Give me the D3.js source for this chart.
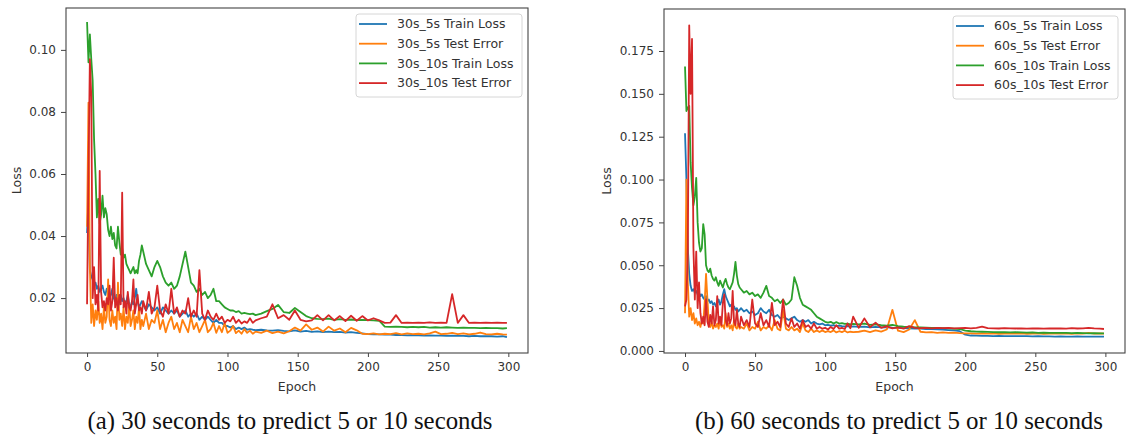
<!DOCTYPE html>
<html>
<head>
<meta charset="utf-8">
<script src="https://cdn.jsdelivr.net/npm/d3@7"></script>
<style>
body{margin:0;background:#fff;}
svg{display:block;}
</style>
</head>
<body>
<svg id="chart" width="1126" height="443"></svg>
<script>
var epochs=[0,1,2,3,4,5,6,7,8,9,10,11,12,13,14,15,16,17,18,19,
  20,21,22,23,24,25,26,27,28,29,30,31,32,33,34,35,36,37,38,39,
  40,42,44,46,48,50,52,54,56,58,60,62,64,66,68,70,72,74,76,78,
  80,82,84,86,88,90,92,94,96,98,100,102,104,106,108,110,112,114,116,118,
  120,
  124,128,132,136,140,144,148,152,156,160,164,168,172,176,180,184,188,192,196,200,
  204,208,212,216,220,224,228,232,236,240,244,248,252,256,260,264,268,272,276,280,
  284,288,292,296,
  299];

var xTicks=[0,50,100,150,200,250,300];
var yTicksA=[0.02,0.04,0.06,0.08,0.10];
var yTicksB=[0,0.025,0.05,0.075,0.1,0.125,0.15,0.175];

var namesA=["30s_5s Train Loss","30s_5s Test Error","30s_10s Train Loss","30s_10s Test Error"];
var namesB=["60s_5s Train Loss","60s_5s Test Error","60s_10s Train Loss","60s_10s Test Error"];
var colors=["#1f77b4","#ff7f0e","#2ca02c","#d62728"];

var captionA="(a) 30 seconds to predict 5 or 10 seconds";
var captionB="(b) 60 seconds to predict 5 or 10 seconds";

// (a) 30 s history
var trainA5=[.041,.052,.029,.027,.026,.024,.025,.023,.024,.022,
  .023,.024,.022,.021,.023,.022,.020,.021,.023,.020,
  .019,.021,.020,.018,.021,.019,.020,.018,.019,.021,
  .018,.017,.019,.018,.020,.023,.019,.017,.018,.019,
  .018,.016,.018,.017,.016,.017,.015,.017,.016,.015,
  .016,.015,.016,.014,.015,.016,.014,.015,.014,.015,
  .013,.014,.013,.014,.013,.012,.013,.012,.012,.011,
  .011,.0105,.011,.010,.0105,.010,.0105,.0098,.010,.0098,
  .0097,
  .0098,.0096,.0095,.0097,.0094,.0093,.0096,.0092,.0094,.0091,
  .0093,.009,.0092,.009,.0091,.0089,.009,.0088,.0086,.0084,
  .0083,.0083,.0082,.0082,.0081,.0081,.008,.0081,.008,.0079,
  .008,.0079,.0079,.0078,.0079,.0078,.0078,.0077,.0078,.0077,
  .0077,.0077,.0076,.0077,
  .0074];
var testA5=[.043,.083,.030,.012,.018,.011,.016,.013,.019,.012,
  .015,.010,.017,.012,.014,.026,.013,.011,.016,.012,
  .014,.010,.025,.013,.015,.011,.017,.010,.014,.012,
  .018,.011,.013,.016,.010,.014,.012,.017,.010,.013,
  .011,.015,.010,.013,.012,.016,.010,.013,.009,.012,
  .014,.010,.012,.009,.013,.011,.009,.014,.010,.012,
  .009,.011,.013,.009,.010,.012,.0088,.011,.009,.012,
  .0088,.0095,.011,.0087,.0095,.0085,.010,.0088,.0095,.0085,
  .0092,
  .0088,.0095,.0087,.0092,.0086,.0093,.0105,.0095,.0115,.0098,
  .0105,.0092,.0108,.0095,.0102,.009,.0104,.0096,.0085,.0084,
  .0086,.0083,.0085,.0084,.0087,.0083,.0086,.0084,.0085,.0083,
  .0086,.0092,.0084,.0085,.0088,.0084,.0086,.0083,.0085,.0089,
  .0084,.0083,.0085,.0083,
  .0082];
var trainA10=[.109,.096,.105,.097,.090,.071,.060,.046,.052,.044,
  .047,.053,.046,.049,.047,.042,.040,.043,.039,.041,
  .037,.036,.043,.038,.034,.036,.033,.034,.031,.030,
  .029,.028,.029,.030,.028,.029,.028,.032,.034,.037,
  .035,.031,.029,.027,.030,.032,.030,.027,.025,.024,
  .025,.023,.024,.027,.031,.035,.030,.025,.024,.022,
  .023,.021,.022,.020,.021,.023,.019,.019,.018,.017,
  .0165,.016,.016,.0155,.0158,.015,.0152,.015,.0148,.015,
  .0145,
  .015,.0158,.0165,.0178,.0155,.0152,.0168,.0155,.0142,.0135,
  .0133,.0132,.0134,.013,.0132,.013,.0131,.0129,.013,.0129,
  .0128,.0127,.0108,.0107,.0108,.0107,.0106,.0107,.0106,.0107,
  .0105,.0106,.0105,.0106,.0105,.0104,.0105,.0104,.0104,.0103,
  .0104,.0103,.0103,.0102,
  .0103];
var testA10=[.018,.060,.097,.085,.020,.030,.018,.021,.016,.061,
  .022,.017,.019,.016,.020,.018,.024,.016,.019,.033,
  .017,.020,.016,.021,.018,.054,.017,.019,.015,.022,
  .017,.016,.019,.026,.015,.018,.021,.016,.017,.015,
  .019,.016,.022,.015,.017,.024,.016,.014,.018,.015,
  .023,.015,.017,.014,.016,.015,.020,.014,.016,.014,
  .029,.015,.013,.016,.014,.013,.015,.013,.014,.012,
  .013,.0125,.014,.012,.013,.0118,.0125,.012,.0135,.012,
  .0128,
  .0135,.014,.018,.0135,.0145,.013,.016,.013,.0125,.0128,
  .0145,.0128,.0145,.0128,.0142,.0126,.0143,.0127,.0142,.0128,
  .0135,.0128,.012,.0121,.0145,.012,.0121,.012,.0121,.012,
  .0122,.012,.0121,.012,.0213,.012,.0145,.012,.0121,.012,
  .0121,.012,.0121,.012,
  .012];

// (b) 60 s history
var trainB5=[.127,.100,.060,.045,.038,.035,.036,.034,.035,.033,
  .034,.032,.033,.031,.030,.032,.029,.030,.028,.029,
  .027,.028,.026,.028,.030,.027,.029,.033,.036,.032,
  .030,.028,.026,.027,.025,.026,.024,.025,.023,.024,
  .025,.023,.024,.022,.023,.021,.022,.025,.023,.022,
  .024,.021,.020,.021,.019,.020,.019,.018,.019,.020,
  .018,.017,.018,.017,.018,.016,.017,.016,.0155,.016,
  .015,.0152,.0148,.015,.0145,.0148,.0145,.0143,.0145,.0142,
  .0143,
  .014,.0142,.0138,.014,.0137,.0138,.0136,.0135,.0133,.0132,
  .013,.0131,.0128,.0127,.0126,.0124,.0122,.012,.0115,.0095,
  .009,.0089,.0088,.0088,.0087,.0088,.0087,.0086,.0087,.0086,
  .0086,.0085,.0086,.0085,.0085,.0084,.0085,.0084,.0084,.0085,
  .0083,.0084,.0083,.0084,
  .0083];
var testB5=[.022,.100,.040,.020,.025,.018,.022,.016,.019,.015,
  .017,.014,.018,.016,.028,.045,.030,.016,.014,.017,
  .013,.015,.014,.016,.013,.019,.014,.015,.013,.022,
  .014,.016,.013,.015,.012,.018,.014,.013,.016,.013,
  .014,.013,.016,.012,.014,.013,.017,.012,.014,.013,
  .015,.012,.018,.013,.012,.024,.013,.012,.014,.012,
  .013,.011,.016,.012,.011,.013,.011,.012,.011,.012,
  .011,.0115,.011,.012,.0108,.0115,.011,.0118,.0108,.0112,
  .011,
  .0112,.0118,.011,.012,.0113,.0125,.024,.0118,.011,.0125,
  .018,.0112,.0108,.011,.0106,.0108,.0105,.0107,.0104,.0102,
  .0103,.0101,.0102,.0101,.0102,.01,.0101,.0102,.0101,.0102,
  .01,.0101,.0102,.01,.0101,.0102,.0101,.0103,.01,.0102,
  .0101,.0105,.0101,.0102,
  .0101];
var trainB10=[.166,.140,.142,.143,.110,.095,.085,.090,.101,.075,
  .063,.058,.060,.074,.068,.050,.047,.046,.048,.044,
  .042,.041,.043,.040,.038,.041,.039,.037,.040,.042,
  .039,.037,.036,.038,.040,.045,.052,.044,.039,.037,
  .036,.034,.035,.033,.034,.032,.033,.031,.034,.038,
  .032,.031,.029,.030,.028,.030,.027,.028,.030,.043,
  .038,.031,.027,.026,.025,.024,.022,.020,.019,.018,
  .017,.0165,.017,.016,.0168,.016,.0162,.0158,.016,.0155,
  .0158,
  .0155,.016,.0152,.0155,.015,.0148,.0152,.0145,.0142,.014,
  .0138,.0137,.0136,.0135,.0134,.0133,.0132,.013,.0128,.0118,
  .0115,.0113,.0112,.0111,.011,.0109,.011,.0108,.0109,.0108,
  .0107,.0108,.0106,.0107,.0106,.0105,.0106,.0105,.0104,.0105,
  .0104,.0103,.0104,.0103,
  .0102];
var testB10=[.026,.030,.060,.190,.150,.182,.060,.030,.058,.025,
  .040,.022,.016,.020,.015,.030,.017,.014,.021,.016,
  .026,.015,.018,.032,.016,.020,.015,.028,.033,.018,
  .015,.022,.016,.019,.035,.017,.015,.024,.016,.014,
  .020,.015,.018,.014,.030,.016,.014,.022,.015,.018,
  .014,.028,.015,.017,.014,.030,.016,.014,.019,.014,
  .016,.013,.018,.014,.015,.013,.016,.013,.014,.013,
  .0135,.0125,.014,.0128,.015,.013,.0135,.0128,.016,.0132,
  .02,
  .0135,.019,.0138,.0165,.0135,.0145,.0132,.0138,.013,.0145,
  .0135,.0133,.0135,.0132,.0134,.0133,.0135,.0132,.0133,.0134,
  .0132,.0135,.0142,.0133,.0132,.0131,.0133,.0132,.0131,.0132,
  .013,.0131,.0132,.013,.0131,.0132,.0131,.013,.0133,.0131,
  .0132,.0135,.0132,.013,
  .0128];

var svg=d3.select("#chart");
var bottom=353;
var font="DejaVu Sans";

var drawPanel=function(p)
{
  p.series.forEach(function(s,i){
    if(s.length!=epochs.length) throw new Error(p.names[i]+" has "+s.length+" values, expected "+epochs.length);
  });
  var xScale=d3.scaleLinear().domain([-15,314]).range([p.left,p.right]);
  var yScale=d3.scaleLinear().domain(p.yDomain).range([bottom,p.top]);
  var g=svg.append("g");

  var xAxis=g.append("g")
    .attr("transform","translate(0,"+bottom+")")
    .call(d3.axisBottom(xScale).tickValues(xTicks).tickSize(4).tickPadding(5));
  var yAxis=g.append("g")
    .attr("transform","translate("+p.left+",0)")
    .call(d3.axisLeft(yScale).tickValues(p.yTicks).tickFormat(d3.format(p.fmt)).tickSize(5).tickPadding(5));
  [xAxis,yAxis].forEach(function(a){
    a.select(".domain").remove();
    a.selectAll(".tick line").attr("stroke","#444").attr("stroke-width",1);
    a.selectAll(".tick text").attr("fill","#333").style("font-family",font).style("font-size","12px");
  });

  var clipId="clip"+p.id;
  g.append("clipPath").attr("id",clipId).append("rect")
    .attr("x",p.left).attr("y",p.top).attr("width",p.right-p.left).attr("height",bottom-p.top);

  var line=d3.line()
    .x(function(d,i){return xScale(epochs[i])})
    .y(function(d){return yScale(d)});
  g.append("g").attr("clip-path","url(#"+clipId+")")
    .selectAll("path").data(p.series).enter().append("path")
    .attr("d",line)
    .attr("fill","none")
    .attr("stroke",function(d,i){return colors[i]})
    .attr("stroke-width",1.8)
    .attr("stroke-linejoin","round");

  g.append("rect")
    .attr("x",p.left).attr("y",p.top)
    .attr("width",p.right-p.left).attr("height",bottom-p.top)
    .attr("fill","none").attr("stroke","#444").attr("stroke-width",1.1);

  // legend
  var lg=g.append("g").attr("transform","translate("+p.legX+","+p.legY+")");
  lg.append("rect").attr("width",p.legW).attr("height",83).attr("rx",3)
    .attr("fill","#fff").attr("fill-opacity",0.8).attr("stroke","#d6d6d6");
  var rows=lg.selectAll(".row").data(p.names).enter().append("g")
    .attr("transform",function(d,i){return "translate(0,"+(10+i*19.7)+")"});
  rows.append("line").attr("x1",3).attr("x2",31).attr("y1",0).attr("y2",0)
    .attr("stroke",function(d,i){return colors[i]}).attr("stroke-width",1.8);
  rows.append("text").attr("x",41).attr("dy","0.35em").text(function(d){return d})
    .attr("fill","#333").style("font-family",font).style("font-size","12.5px");

  // axis labels
  g.append("text").attr("x",(p.left+p.right)/2).attr("y",391)
    .attr("text-anchor","middle").attr("fill","#333")
    .style("font-family",font).style("font-size","12.5px").text("Epoch");
  g.append("text").attr("transform","translate("+p.yLabelX+","+(bottom+p.top)/2+") rotate(-90)")
    .attr("text-anchor","middle").attr("dy","0.35em").attr("fill","#333")
    .style("font-family",font).style("font-size","12.5px").text("Loss");

  // caption
  g.append("text").attr("x",p.capX).attr("y",429)
    .attr("text-anchor","middle").attr("fill","#111")
    .attr("textLength",p.capW).attr("lengthAdjust","spacingAndGlyphs")
    .style("font-family","Liberation Serif").style("font-size","26px")
    .text(p.caption);
}

drawPanel({id:"a",left:66,right:528,top:8,yDomain:[0.0023,0.1135],yTicks:yTicksA,fmt:".2f",
  series:[trainA5,testA5,trainA10,testA10],names:namesA,
  legX:356,legY:14,legW:166,yLabelX:17,capX:290,capW:405,caption:captionA});
drawPanel({id:"b",left:664,right:1125,top:9,yDomain:[-0.0012,0.1995],yTicks:yTicksB,fmt:".3f",
  series:[trainB5,testB5,trainB10,testB10],names:namesB,
  legX:953,legY:16,legW:165,yLabelX:607,capX:899,capW:408,caption:captionB});
</script>
</body>
</html>
